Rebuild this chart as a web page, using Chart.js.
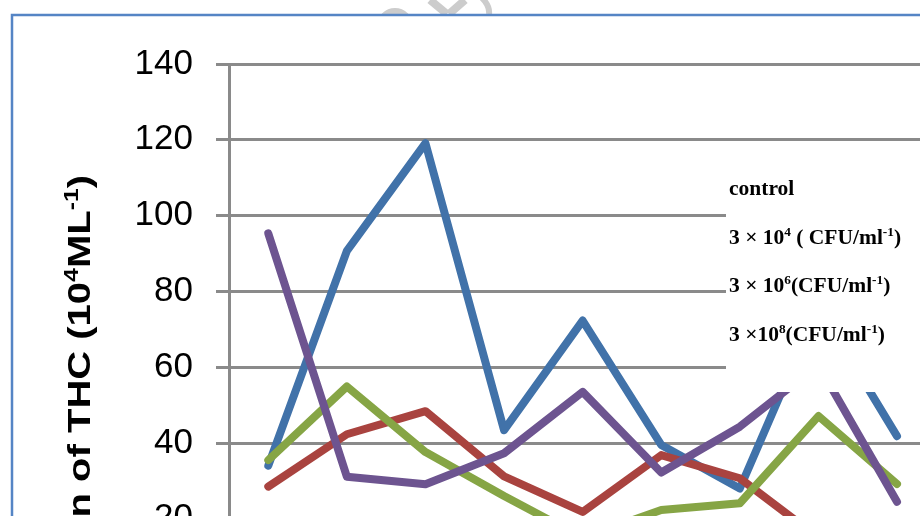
<!DOCTYPE html>
<html>
<head>
<meta charset="utf-8">
<title>THC chart</title>
<script src="https://cdn.jsdelivr.net/npm/chart.js@4.4.1/dist/chart.umd.min.js"></script>
<style>
    html, body { margin: 0; padding: 0; background: #fff; overflow: hidden; }
    #wrap { width: 920px; height: 516px; overflow: hidden; position: relative; }
    #thcChart { position: absolute; left: 0; top: 0; }
</style>
</head>
<body>
<div id="wrap">
    <canvas id="thcChart" width="960" height="700" style="width:960px;height:700px"></canvas>
</div>
<script>
// Chart data (sampling points are not visible in the crop)
const categories = ['1', '2', '3', '4', '5', '6', '7', '8', '9'];
const controlValues = [34, 90.7, 119.1, 43.4, 72.3, 39.5, 28, 76, 41.8];
const dose4Values = [28.5, 42.3, 48.4, 31.2, 21.8, 36.8, 30.7, 15, 12];
const dose6Values = [35.5, 54.9, 37.6, 26, 15, 22.3, 24.1, 47.1, 29.2];
const dose8Values = [95.3, 31.1, 29.1, 37.3, 53.5, 32.2, 44.3, 60.6, 24.5];
const seriesNames = [
    'control',
    '3 × 10^{4} ( CFU/ml^{-1})',
    '3 × 10^{6}(CFU/ml^{-1})',
    '3 ×10^{8}(CFU/ml^{-1})'
];
const seriesColors = ['#4172A9', '#A9433F', '#86A545', '#6D5490'];
const yTicks = [0, 20, 40, 60, 80, 100, 120, 140];
const yTitle = 'Concentration of THC (10^{4}ML^{-1})';

const SANS = "'Liberation Sans', Arial, sans-serif";
const SERIF = "'Liberation Serif', 'DejaVu Serif', serif";

/**
 * Split text with ^{...} superscript parts
 */
function richParts(text) {
    const parts = [];
    const re = /\^\{([^}]*)\}/g;
    let last = 0, m;
    while ((m = re.exec(text)) !== null) {
        if (m.index > last) parts.push({ t: text.slice(last, m.index), sup: false });
        parts.push({ t: m[1], sup: true });
        last = re.lastIndex;
    }
    if (last < text.length) parts.push({ t: text.slice(last), sup: false });
    return parts;
}

function richWidth(ctx, text, size, weight, family) {
    let w = 0;
    richParts(text).forEach(p => {
        ctx.font = weight + ' ' + (p.sup ? size * 0.62 : size) + 'px ' + family;
        w += ctx.measureText(p.t).width;
    });
    return w;
}

function drawRich(ctx, text, x, y, size, weight, family) {
    richParts(text).forEach(p => {
        const s = p.sup ? size * 0.62 : size;
        ctx.font = weight + ' ' + s + 'px ' + family;
        ctx.fillText(p.t, x, p.sup ? y - size * 0.38 : y);
        x += ctx.measureText(p.t).width;
    });
}

// Page frame, faint watermark and white background
const framePlugin = {
    id: 'frame',
    beforeDraw(chart) {
        const ctx = chart.ctx;
        ctx.save();
        ctx.fillStyle = '#fff';
        ctx.fillRect(0, 0, chart.width, chart.height);

        ctx.beginPath();
        ctx.rect(0, 0, chart.width, 14);
        ctx.clip();
        ctx.fillStyle = '#cccccc';
        ctx.strokeStyle = '#cccccc';
        ctx.beginPath();
        ctx.arc(395, 26, 18, 0, Math.PI * 2);
        ctx.fill();
        ctx.lineWidth = 8;
        ctx.beginPath();
        ctx.moveTo(430, 0); ctx.lineTo(447, 14);
        ctx.moveTo(465, 0); ctx.lineTo(449, 14);
        ctx.stroke();
        ctx.lineWidth = 6;
        ctx.beginPath();
        ctx.moveTo(482, -2);
        ctx.quadraticCurveTo(490, 6, 489, 14);
        ctx.stroke();
        ctx.restore();

        ctx.save();
        ctx.strokeStyle = '#5585C5';
        ctx.lineWidth = 2.5;
        ctx.strokeRect(12, 15, chart.width + 20, chart.height + 20);
        ctx.restore();
    }
};

// Legend box drawn over the lines, plus the rotated axis title
const overlayPlugin = {
    id: 'overlay',
    afterDatasetsDraw(chart) {
        const ctx = chart.ctx;
        ctx.save();
        ctx.fillStyle = '#fff';
        ctx.fillRect(726, 160, chart.width - 726, 232);
        ctx.fillStyle = '#000';
        ctx.textBaseline = 'alphabetic';
        ctx.textAlign = 'left';
        seriesNames.forEach((name, i) => {
            drawRich(ctx, name, 729, 195 + i * 48.7, 21.5, 'bold', SERIF);
        });
        ctx.restore();
    },
    afterDraw(chart) {
        const ctx = chart.ctx;
        ctx.save();
        ctx.fillStyle = '#000';
        ctx.textBaseline = 'alphabetic';
        ctx.textAlign = 'left';
        const size = 40;
        const w = richWidth(ctx, yTitle, size, 'bold', SANS);
        ctx.translate(90, 175);
        ctx.rotate(-Math.PI / 2);
        ctx.scale(1, 0.78); // the original figure is squeezed sideways
        drawRich(ctx, yTitle, -w, 0, size, 'bold', SANS);
        ctx.restore();
    }
};

function makeSeries(label, values, color, order) {
    return {
        label: label,
        data: values,
        borderColor: color,
        backgroundColor: color,
        borderWidth: 8,
        borderCapStyle: 'round',
        borderJoinStyle: 'round',
        pointRadius: 0,
        pointHoverRadius: 0,
        tension: 0,
        fill: false,
        order: order
    };
}

function initializeThcChart() {
    const ctx = document.getElementById('thcChart');
    if (!ctx) return;

    new Chart(ctx.getContext('2d'), {
        type: 'line',
        data: {
            labels: categories,
            datasets: [
                makeSeries(seriesNames[0], controlValues, seriesColors[0], 3),
                makeSeries(seriesNames[1], dose4Values, seriesColors[1], 2),
                makeSeries(seriesNames[2], dose6Values, seriesColors[2], 1),
                makeSeries(seriesNames[3], dose8Values, seriesColors[3], 0)
            ]
        },
        plugins: [framePlugin, overlayPlugin],
        options: {
            responsive: false,
            animation: false,
            devicePixelRatio: 1,
            layout: {
                padding: { top: 64, right: 23.7, left: 0, bottom: 0 }
            },
            plugins: {
                legend: { display: false },
                tooltip: { enabled: false },
                title: { display: false }
            },
            scales: {
                x: {
                    offset: true,
                    grid: { display: false },
                    border: { display: true, color: '#8A8A8A', width: 3 },
                    ticks: {
                        color: '#000',
                        font: { family: SANS, size: 30 }
                    },
                    afterFit: function(scale) {
                        scale.height = 105.4;
                    }
                },
                y: {
                    min: 0,
                    max: 140,
                    afterBuildTicks: function(scale) {
                        scale.ticks = yTicks.map(v => ({ value: v }));
                    },
                    grid: {
                        color: '#8A8A8A',
                        lineWidth: 3,
                        tickLength: 13,
                        drawTicks: true
                    },
                    border: { display: true, color: '#8A8A8A', width: 3 },
                    ticks: {
                        color: '#000',
                        padding: 23,
                        font: { family: SANS, size: 35 }
                    },
                    afterFit: function(scale) {
                        scale.width = 229;
                    }
                }
            }
        }
    });
}

initializeThcChart();
</script>
</body>
</html>
